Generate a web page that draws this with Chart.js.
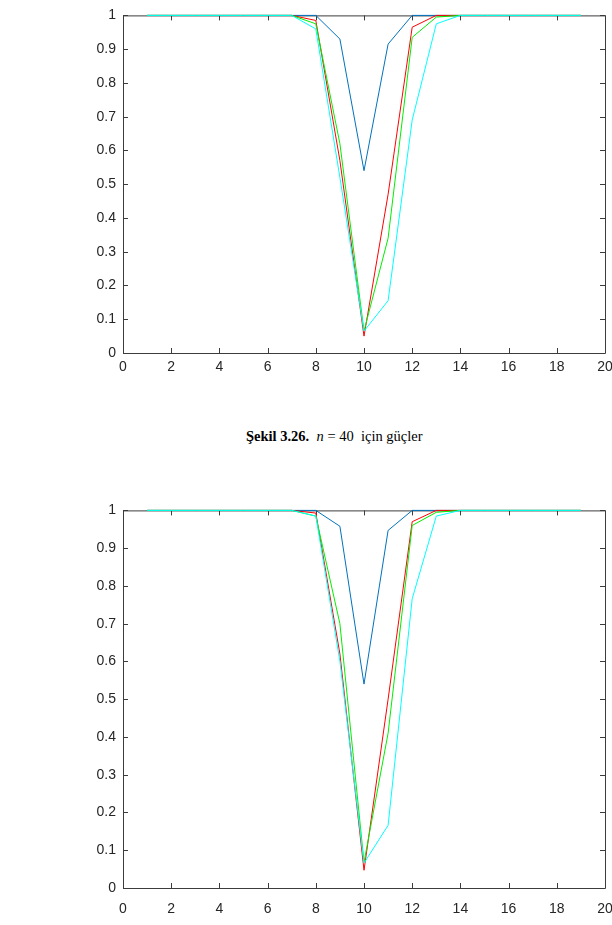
<!DOCTYPE html>
<html>
<head>
<meta charset="utf-8">
<script src="https://cdn.jsdelivr.net/npm/chart.js@4.4.1/dist/chart.umd.min.js"></script>
<style>
  html, body { margin: 0; padding: 0; background: #fff; }
  body { width: 612px; height: 925px; overflow: hidden; position: relative; }
  canvas { position: absolute; left: 0; }
  #chart1 { top: 0; }
  #chart2 { top: 495px; }
  #caption {
    position: absolute; top: 428px; left: 246px; white-space: nowrap;
    font-family: "Liberation Serif", "Times New Roman", serif; font-size: 14.5px; color: #000;
  }
</style>
</head>
<body>
<canvas id="chart1" width="640" height="393"></canvas>
<div id="caption"><b>Şekil 3.26.</b>&nbsp; <i>n</i> = 40&nbsp; için güçler</div>
<canvas id="chart2" width="640" height="430"></canvas>

<script>
// x positions of the points (same for every series)
const xValues = [1, 2, 3, 4, 5, 6, 7, 8, 9, 10, 11, 12, 13, 14, 15, 16, 17, 18, 19];

// tick labels
const xTicks = [0, 2, 4, 6, 8, 10, 12, 14, 16, 18, 20];
const yTicks = [0, 0.1, 0.2, 0.3, 0.4, 0.5, 0.6, 0.7, 0.8, 0.9, 1];
const xTickLabels = ["0", "2", "4", "6", "8", "10", "12", "14", "16", "18", "20"];
const yTickLabels = ["0", "0.1", "0.2", "0.3", "0.4", "0.5", "0.6", "0.7", "0.8", "0.9", "1"];

// upper chart
const blue1  = [1, 1, 1, 1, 1, 1, 1, 1, 0.93, 0.54, 0.915, 1, 1, 1, 1, 1, 1, 1, 1];
const red1   = [1, 1, 1, 1, 1, 1, 1, 0.985, 0.57, 0.05, 0.47, 0.965, 1, 1, 1, 1, 1, 1, 1];
const green1 = [1, 1, 1, 1, 1, 1, 1, 0.975, 0.62, 0.065, 0.34, 0.935, 0.995, 1, 1, 1, 1, 1, 1];
const cyan1  = [1, 1, 1, 1, 1, 1, 1, 0.96, 0.52, 0.065, 0.155, 0.69, 0.975, 1, 1, 1, 1, 1, 1];

// lower chart
const blue2  = [1, 1, 1, 1, 1, 1, 1, 1, 0.958, 0.54, 0.947, 1, 1, 1, 1, 1, 1, 1, 1];
const red2   = [1, 1, 1, 1, 1, 1, 1, 0.993, 0.62, 0.047, 0.5, 0.97, 1, 1, 1, 1, 1, 1, 1];
const green2 = [1, 1, 1, 1, 1, 1, 1, 0.985, 0.7, 0.068, 0.41, 0.96, 0.995, 1, 1, 1, 1, 1, 1];
const cyan2  = [1, 1, 1, 1, 1, 1, 1, 0.985, 0.6, 0.066, 0.166, 0.766, 0.985, 1, 1, 1, 1, 1, 1];

const seriesColors = ["#0072bd", "#ff0000", "#00ee00", "#00ffff"];
const axisColor = "#3c3c3c";
const tickLen = 5;

// matlab style box with ticks pointing inward
const boxPlugin = {
  id: "matlabBox",
  beforeDatasetsDraw(chart) {
    const ctx = chart.ctx;
    const a = chart.chartArea;
    const xs = chart.scales.x;
    const ys = chart.scales.y;
    ctx.save();
    ctx.strokeStyle = axisColor;
    ctx.lineWidth = 1;
    ctx.beginPath();
    ctx.rect(a.left + 0.5, a.top + 0.5, a.right - a.left, a.bottom - a.top);
    xTicks.forEach(v => {
      const px = Math.round(xs.getPixelForValue(v)) + 0.5;
      ctx.moveTo(px, a.bottom); ctx.lineTo(px, a.bottom - tickLen);
      ctx.moveTo(px, a.top); ctx.lineTo(px, a.top + tickLen);
    });
    yTicks.forEach(v => {
      const py = Math.round(ys.getPixelForValue(v)) + 0.5;
      ctx.moveTo(a.left, py); ctx.lineTo(a.left + tickLen, py);
      ctx.moveTo(a.right, py); ctx.lineTo(a.right - tickLen, py);
    });
    ctx.stroke();
    ctx.restore();
  }
};

const makeChart = (id, series, xAxisHeight, labelPad) => {
  const datasets = series.map((values, i) => ({
    data: values.map((v, j) => ({ x: xValues[j], y: v })),
    borderColor: seriesColors[i],
    borderWidth: 1,
    pointRadius: 0,
    fill: false,
    tension: 0,
    clip: false,
    order: series.length - i
  }));

  return new Chart(document.getElementById(id), {
    type: "line",
    data: { datasets: datasets },
    options: {
      responsive: false,
      animation: false,
      layout: { padding: { top: 13, right: 35, left: 0, bottom: 0 } },
      plugins: { legend: { display: false }, tooltip: { enabled: false } },
      scales: {
        x: {
          type: "linear",
          min: 0, max: 20,
          grid: { display: false, drawTicks: false },
          border: { display: false },
          afterBuildTicks: (scale) => { scale.ticks = xTicks.map(v => ({ value: v })); },
          afterFit: (scale) => { scale.height = xAxisHeight; },
          ticks: {
            padding: labelPad,
            color: "#262626",
            font: { family: "'Liberation Sans', Arial, sans-serif", size: 14 },
            maxRotation: 0,
            autoSkip: false,
            callback: (value, index) => xTickLabels[index]
          }
        },
        y: {
          min: 0, max: 1,
          grid: { display: false, drawTicks: false },
          border: { display: false },
          afterBuildTicks: (scale) => { scale.ticks = yTicks.map(v => ({ value: v })); },
          afterFit: (scale) => { scale.width = 123; },
          ticks: {
            padding: 7,
            color: "#262626",
            font: { family: "'Liberation Sans', Arial, sans-serif", size: 14 },
            autoSkip: false,
            callback: (value, index) => yTickLabels[index]
          }
        }
      }
    },
    plugins: [boxPlugin]
  });
};

makeChart("chart1", [blue1, red1, green1, cyan1], 40, 6);
makeChart("chart2", [blue2, red2, green2, cyan2], 37, 13);
</script>
</body>
</html>
